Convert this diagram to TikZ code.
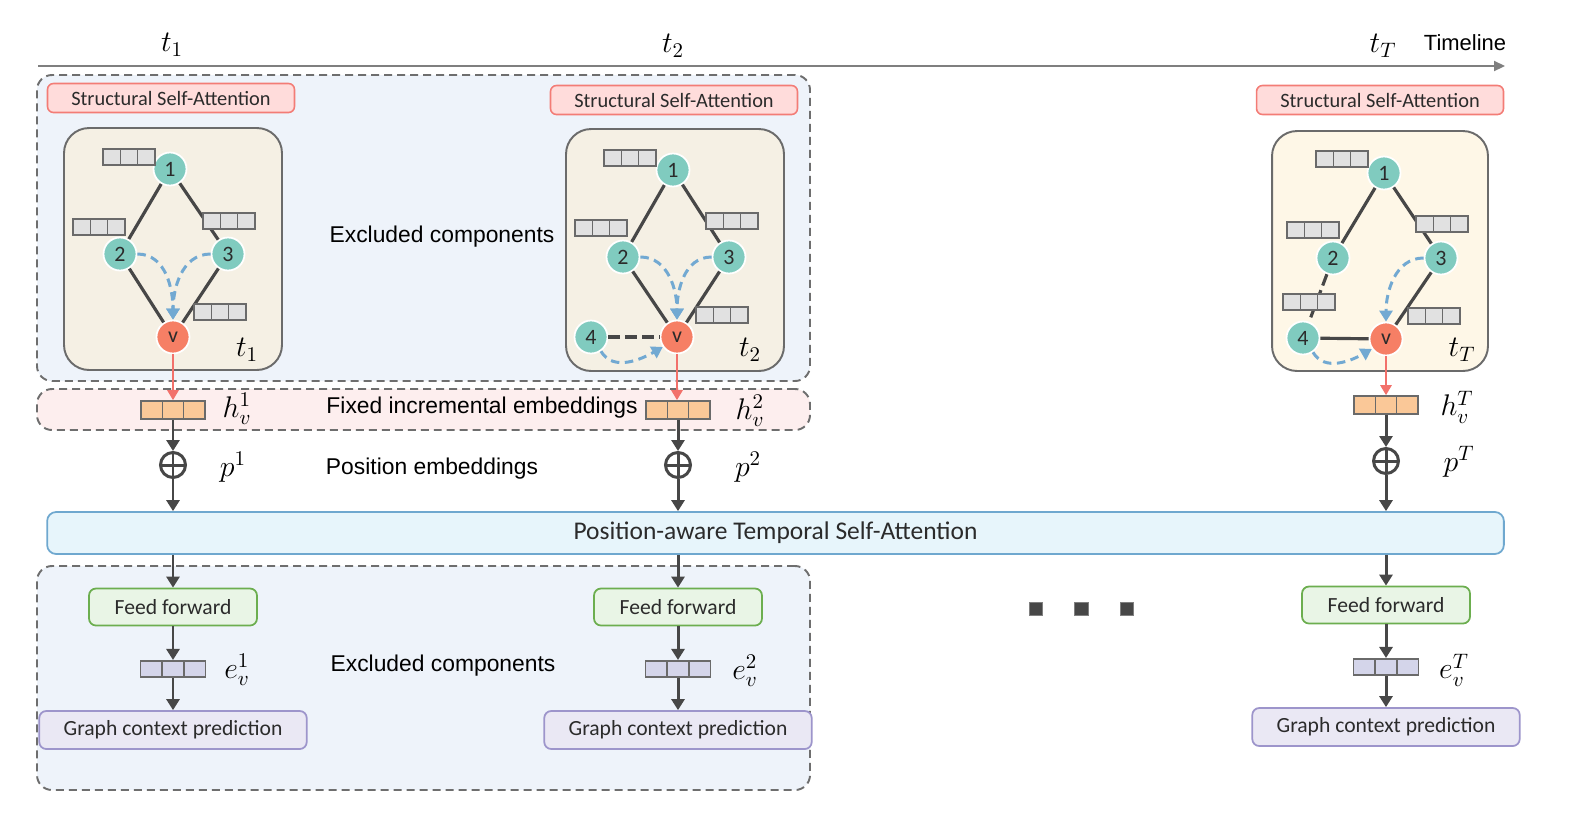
\RequirePackage{fix-cm}
\documentclass[tikz,border=0pt]{standalone}
\usepackage[no-math]{fontspec}
\setmainfont{Liberation Sans}
\newfontfamily\calib{Carlito}
\usepackage{amsmath}
\usetikzlibrary{positioning,shapes,fit,arrows.meta,calc}

\definecolor{regionblue}{HTML}{EEF3FA}
\definecolor{regionpink}{HTML}{FDEEEE}
\definecolor{dashgray}{HTML}{6E6E6E}
\definecolor{ssafill}{HTML}{FFDCDB}
\definecolor{ssaline}{HTML}{F37C76}
\definecolor{framefill}{HTML}{F5F0E4}
\definecolor{framefillT}{HTML}{FEF7E7}
\definecolor{frameline}{HTML}{6B6B6B}
\definecolor{nodeteal}{HTML}{80CBBF}
\definecolor{nodev}{HTML}{F67F65}
\definecolor{edgegray}{HTML}{474747}
\definecolor{attnblue}{HTML}{72A9D2}
\definecolor{redarrow}{HTML}{F2716B}
\definecolor{cellgray}{HTML}{E1E1E1}
\definecolor{cellorange}{HTML}{FAC898}
\definecolor{cellpurple}{HTML}{D4D5EA}
\definecolor{cellline}{HTML}{6A6A6A}
\definecolor{fffill}{HTML}{E9F5E6}
\definecolor{ffline}{HTML}{6CAE4F}
\definecolor{gcpfill}{HTML}{EAE8F4}
\definecolor{gcpline}{HTML}{9D95CB}
\definecolor{tsafill}{HTML}{E7F5FB}
\definecolor{tsaline}{HTML}{6FA8CF}
\definecolor{timegray}{HTML}{7F7F7F}
\definecolor{txtdark}{HTML}{2B2B2B}

\tikzset{
  region/.style={draw=dashgray, dash pattern=on 0.16cm off 0.1cm, line width=1.1pt,
    rounded corners=0.3cm, inner sep=0pt},
  ssabox/.style={draw=ssaline, fill=ssafill, line width=0.9pt, rounded corners=0.12cm,
    minimum width=4.94cm, minimum height=0.58cm, text=txtdark,
    font=\calib\fontsize{11.6}{13}\selectfont},
  gframe/.style={draw=frameline, fill=framefill, line width=1.1pt, rounded corners=0.5cm,
    minimum width=4.36cm, minimum height=4.84cm},
  gnode/.style={circle, fill=nodeteal, draw=white, line width=1pt, minimum size=0.66cm,
    inner sep=0pt, text=txtdark, font=\calib\fontsize{12.5}{12}\selectfont},
  vnode/.style={gnode, fill=nodev},
  gedge/.style={edgegray, line width=1.8pt},
  gedgedash/.style={gedge, dash pattern=on 0.24cm off 0.1cm},
  attn/.style={attnblue, line width=1.7pt, dash pattern=on 0.17cm off 0.11cm,
    -{Triangle[length=0.22cm, width=0.26cm]}},
  vecbar/.style={draw=cellline, line width=0.9pt, inner sep=0pt,
    path picture={\foreach \f in {0.3333,0.6667}
      \draw[cellline, line width=0.9pt]
        ($(path picture bounding box.south west)!\f!(path picture bounding box.south east)$) -- ++(0,1cm);}},
  smallvec/.style={vecbar, fill=cellgray, minimum width=1.04cm, minimum height=0.33cm},
  hvec/.style={vecbar, fill=cellorange, minimum width=1.27cm, minimum height=0.36cm},
  evec/.style={vecbar, fill=cellpurple, minimum width=1.3cm, minimum height=0.33cm},
  oplus/.style={circle, draw=edgegray, line width=1.7pt, minimum size=0.5cm, inner sep=0pt,
    path picture={\draw[edgegray, line width=1.7pt]
      (path picture bounding box.north) -- (path picture bounding box.south)
      (path picture bounding box.west) -- (path picture bounding box.east);}},
  ffbox/.style={draw=ffline, fill=fffill, line width=1pt, rounded corners=0.14cm,
    minimum width=3.36cm, minimum height=0.74cm, text=txtdark,
    font=\calib\fontsize{12.3}{14}\selectfont},
  gcpbox/.style={draw=gcpline, fill=gcpfill, line width=1pt, rounded corners=0.14cm,
    minimum width=5.35cm, minimum height=0.76cm, text=txtdark,
    font=\calib\fontsize{12.3}{14}\selectfont},
  tsabox/.style={draw=tsaline, fill=tsafill, line width=1pt, rounded corners=0.18cm,
    minimum width=29.14cm, minimum height=0.84cm, inner sep=0pt, text=txtdark,
    font=\calib\fontsize{14.5}{16}\selectfont},
  flow/.style={edgegray, line width=1.7pt, -{Triangle[length=0.22cm, width=0.26cm]}},
  vout/.style={redarrow, line width=1.5pt, -{Triangle[length=0.2cm, width=0.22cm]}},
  mlabel/.style={text=black, inner sep=1pt, font=\fontsize{17}{19}\selectfont},
  sidetext/.style={text=black, font=\fontsize{13}{15}\selectfont},
  dotsq/.style={fill=edgegray, draw=gray, line width=0.5pt, minimum size=0.27cm, inner sep=0pt},
}

\begin{document}
\begin{tikzpicture}[x=0.02cm, y=0.02cm]
  \useasboundingbox (0,0) rectangle (1588,-812);

  % dashed regions (excluded / fixed parts)
  \node[region, fill=regionblue, fit={(37,-75) (810,-381)}] (exTop) {};
  \node[region, fill=regionpink, fit={(37,-389) (810,-430)}] (fixEmb) {};
  \node[region, fill=regionblue, fit={(37,-566) (810,-790)}] (exBot) {};

  % timeline
  \coordinate (tStart) at (38,-66);
  \coordinate (tEnd) at (1505,-66);
  \draw[timegray, line width=1.2pt, -{Triangle[length=0.22cm, width=0.2cm]}] (tStart) -- (tEnd);
  \node[mlabel] (tl1) at (172,-45) {$t_1$};
  \node[mlabel] (tl2) at (673,-46) {$t_2$};
  \node[mlabel] (tlT) at (1383,-46) {$t_T$};
  \node[font=\fontsize{12.5}{14}\selectfont] (tlName) at (1465,-43) {Timeline};

  % snapshot t_1
  \node[ssabox] (ssa1) at (171,-98) {Structural Self-Attention};
  \node[gframe] (g1) at (173,-249) {};
  \node[gnode] (a1) at (170,-169) {1};
  \node[gnode] (b1) at (120,-254) {2};
  \node[gnode] (c1) at (228,-254) {3};
  \node[vnode] (v1) at (173,-337) {v};
  \draw[gedge] (a1) -- (b1) (a1) -- (c1) (b1) -- (v1) (c1) -- (v1);
  \node[smallvec] (f1a) at (129,-157) {};
  \node[smallvec] (f1b) at (99,-227) {};
  \node[smallvec] (f1c) at (229,-221) {};
  \node[smallvec] (f1d) at (220,-312) {};
  \draw[attn] (b1.east) to[out=0, in=90] (v1.north);
  \draw[attn] (c1.west) to[out=180, in=90] (v1.north);
  \node[mlabel] (gt1) at (247,-350) {$t_1$};

  % snapshot t_2
  \node[ssabox] (ssa2) at (674,-100) {Structural Self-Attention};
  \node[gframe] (g2) at (675,-250) {};
  \node[gnode] (a2) at (673,-170) {1};
  \node[gnode] (b2) at (623,-257) {2};
  \node[gnode] (c2) at (729,-257) {3};
  \node[gnode] (d2) at (591,-337) {4};
  \node[vnode] (v2) at (677,-337) {v};
  \draw[gedge] (a2) -- (b2) (a2) -- (c2) (b2) -- (v2) (c2) -- (v2);
  \draw[gedgedash] (d2) -- (v2);
  \node[smallvec] (f2a) at (630,-158) {};
  \node[smallvec] (f2b) at (601,-228) {};
  \node[smallvec] (f2c) at (732,-221) {};
  \node[smallvec] (f2d) at (722,-315) {};
  \draw[attn] (b2.east) to[out=0, in=90] (v2.north);
  \draw[attn] (c2.west) to[out=180, in=90] (v2.north);
  \draw[attn] (d2.-55) to[out=-60, in=-150] (v2.-145);
  \node[mlabel] (gt2) at (750,-350) {$t_2$};

  % snapshot t_T
  \node[ssabox] (ssa3) at (1380,-100) {Structural Self-Attention};
  \node[gframe, fill=framefillT, minimum width=4.32cm, minimum height=4.8cm] (g3) at (1380,-251) {};
  \node[gnode] (a3) at (1384,-173) {1};
  \node[gnode] (b3) at (1333,-258) {2};
  \node[gnode] (c3) at (1441,-258) {3};
  \node[gnode] (d3) at (1303,-338) {4};
  \node[vnode] (v3) at (1386,-339) {v};
  \draw[gedge] (a3) -- (b3) (a3) -- (c3) (d3) -- (v3) (c3) -- (v3);
  \draw[gedgedash] (b3) -- (d3);
  \node[smallvec] (f3a) at (1342,-159) {};
  \node[smallvec] (f3b) at (1313,-230) {};
  \node[smallvec] (f3c) at (1442,-224) {};
  \node[smallvec] (f3d) at (1309,-302) {};
  \node[smallvec] (f3e) at (1434,-316) {};
  \draw[attn] (c3.west) to[out=180, in=90] (v3.north);
  \draw[attn] (d3.-55) to[out=-60, in=-150] (v3.-145);
  \node[mlabel] (gtT) at (1462,-350) {$t_T$};

  % side texts
  \node[sidetext] (exTopLbl) at (442,-237) {Excluded components};
  \node[sidetext] (fixLbl) at (482,-408) {Fixed incremental embeddings};
  \node[sidetext] (posLbl) at (432,-469) {Position embeddings};
  \node[sidetext] (exBotLbl) at (443,-666) {Excluded components};

  \node[tsabox] (tsa) at (775.5,-533) {Position-aware Temporal Self-Attention};

  % column t_1
  \node[hvec] (h1) at (173,-410) {};
  \node[mlabel] (hl1) at (237,-409) {$h_v^1$};
  \node[oplus] (o1) at (173,-465) {};
  \node[mlabel] (pl1) at (233,-467) {$p^1$};
  \node[ffbox] (ff1) at (173,-607) {Feed forward};
  \node[evec] (e1) at (173,-669) {};
  \node[mlabel] (el1) at (237,-670) {$e_v^1$};
  \node[gcpbox] (gc1) at (173,-730) {Graph context prediction};
  \draw[vout] (v1.south) -- (v1.south |- h1.north);
  \draw[flow] (h1.south) -- (o1.north);
  \draw[flow] (o1.south) -- (o1 |- tsa.north);
  \draw[flow] (tsa.south -| ff1) -- (ff1.north);
  \draw[flow] (ff1.south) -- (e1.north);
  \draw[flow] (e1.south) -- (gc1.north);

  % column t_2
  \node[hvec] (h2) at (678,-410) {};
  \node[mlabel] (hl2) at (750,-411) {$h_v^2$};
  \node[oplus] (o2) at (678,-465) {};
  \node[mlabel] (pl2) at (748,-467) {$p^2$};
  \node[ffbox] (ff2) at (678,-607) {Feed forward};
  \node[evec] (e2) at (678,-669) {};
  \node[mlabel] (el2) at (745,-671) {$e_v^2$};
  \node[gcpbox] (gc2) at (678,-730) {Graph context prediction};
  \draw[vout] (v2.south) -- (v2.south |- h2.north);
  \draw[flow] (h2.south) -- (o2.north);
  \draw[flow] (o2.south) -- (o2 |- tsa.north);
  \draw[flow] (tsa.south -| ff2) -- (ff2.north);
  \draw[flow] (ff2.south) -- (e2.north);
  \draw[flow] (e2.south) -- (gc2.north);

  % column t_T
  \node[hvec] (h3) at (1386,-405) {};
  \node[mlabel] (hl3) at (1457,-407) {$h_v^T$};
  \node[oplus] (o3) at (1386,-461) {};
  \node[mlabel] (pl3) at (1459,-462) {$p^T$};
  \node[ffbox] (ff3) at (1386,-605) {Feed forward};
  \node[evec] (e3) at (1386,-667) {};
  \node[mlabel] (el3) at (1454,-670) {$e_v^T$};
  \node[gcpbox] (gc3) at (1386,-727) {Graph context prediction};
  \draw[vout] (v3.south) -- (v3.south |- h3.north);
  \draw[flow] (h3.south) -- (o3.north);
  \draw[flow] (o3.south) -- (o3 |- tsa.north);
  \draw[flow] (tsa.south -| ff3) -- (ff3.north);
  \draw[flow] (ff3.south) -- (e3.north);
  \draw[flow] (e3.south) -- (gc3.north);

  % ellipsis between t_2 and t_T
  \node[dotsq] (dd1) at (1036,-609) {};
  \node[dotsq, right=0.62cm of dd1] (dd2) {};
  \node[dotsq, right=0.62cm of dd2] (dd3) {};
\end{tikzpicture}
\end{document}
